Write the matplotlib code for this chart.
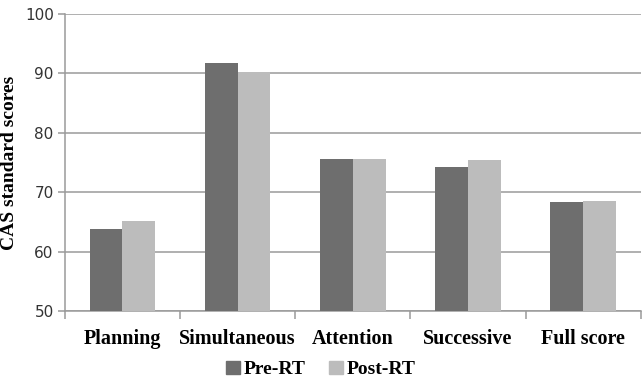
import numpy as np
import matplotlib
matplotlib.use("Agg")
import matplotlib.pyplot as plt
from matplotlib.patches import Patch

# data
categories = ["Planning", "Simultaneous", "Attention", "Successive", "Full score"]
pre_rt = [63.8, 91.8, 75.6, 74.2, 68.4]
post_rt = [65.1, 90.3, 75.6, 75.4, 68.6]
series_names = ["Pre-RT", "Post-RT"]
yticks = [50, 60, 70, 80, 90, 100]

pre_color = "#6e6e6e"
post_color = "#bcbcbc"
grid_color = "#9a9a9a"
serif = ["Liberation Serif", "DejaVu Serif"]

fig = plt.figure(figsize=(6.42, 3.85), dpi=100)
ax = fig.add_axes([0.101, 0.192, 0.897, 0.772])

x = np.arange(len(categories))
w = 0.285
ax.bar(x - w / 2, pre_rt, width=w, color=pre_color, zorder=3)
ax.bar(x + w / 2, post_rt, width=w, color=post_color, zorder=3)

ax.set_xlim(-0.5, len(categories) - 0.5)
ax.set_ylim(50, 100)
ax.set_yticks(yticks)
ax.yaxis.grid(True, color=grid_color, linewidth=1.1, zorder=0)
ax.set_axisbelow(True)

for s in ["top", "right"]:
    ax.spines[s].set_visible(False)
ax.spines["left"].set_color(grid_color)
ax.spines["bottom"].set_color(grid_color)
ax.spines["left"].set_linewidth(1.1)
ax.spines["bottom"].set_linewidth(1.1)

# category boundaries carry the tick marks, labels sit in the middle
ax.set_xticks(np.arange(len(categories) + 1) - 0.5)
ax.set_xticklabels([])
ax.set_xticks(x, minor=True)
ax.set_xticklabels(categories, minor=True, family=serif, fontweight="bold", fontsize=14.5)
ax.tick_params(axis="x", which="major", length=6, color=grid_color, width=1.1)
ax.tick_params(axis="x", which="minor", length=0, pad=13)
ax.tick_params(axis="y", length=5, color=grid_color, width=1.1, labelsize=11,
               labelcolor="#333333", pad=3)

ax.set_ylabel("CAS standard scores", family=serif, fontweight="bold", fontsize=14)
ax.yaxis.set_label_coords(-0.081, 0.5)

handles = [Patch(color=pre_color), Patch(color=post_color)]
fig.legend(handles, series_names, loc="center", bbox_to_anchor=(0.5, 0.04), ncol=2,
           frameon=False, prop={"family": serif, "weight": "bold", "size": 14},
           handlelength=0.7, handleheight=0.7, handletextpad=0.2, columnspacing=1.2)

fig.savefig("out.png", dpi=100)
